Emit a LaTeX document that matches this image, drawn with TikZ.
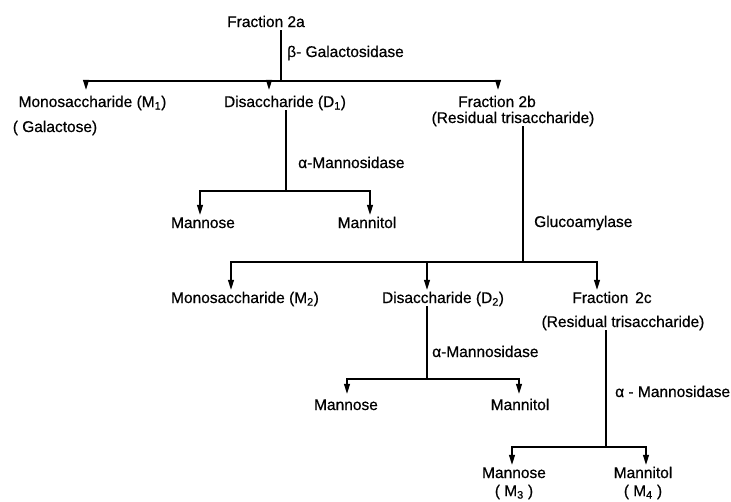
\documentclass[tikz,border=0pt]{standalone}
\usepackage{fontspec}
\setmainfont[FakeBold=0.6]{Liberation Sans}
\usetikzlibrary{arrows.meta}
\begin{document}
\begin{tikzpicture}[x=1pt,y=-1pt,
  lbl/.style={anchor=base,inner sep=0pt,text height=11pt,text depth=3pt,font=\fontsize{15.5}{18}\selectfont},
  enz/.style={anchor=base west,inner sep=0pt,font=\fontsize{15.5}{18}\selectfont},
  ln/.style={line width=1.3pt},
  arr/.style={ln,-{Triangle[length=10pt,width=6pt]}}]
\path[use as bounding box] (0,0) rectangle (731,501);

% level 1
\node[lbl] (f2a) at (266,27) {Fraction 2a};
\coordinate (j1) at (281,81);
\node[enz] (e1) at (287,57) {β- Galactosidase};
\node[lbl] (m1) at (92.5,107) {Monosaccharide (M\textsubscript{1})};
\node[lbl] (gal) at (55,132) {( Galactose)};
\node[lbl] (d1) at (285,107) {Disaccharide (D\textsubscript{1})};
\node[lbl] (f2b) at (497,107) {Fraction 2b};
\node[lbl] (r2b) at (513,123) {(Residual trisaccharide)};

\draw[ln] (f2a.south -| j1) -- (j1);
\draw[arr,shorten >=6pt] (j1) -| ([xshift=-6.5pt]m1.north);
\draw[arr,shorten >=6pt] (j1) -| ([xshift=-16pt]d1.north);
\draw[arr,shorten >=6pt] (j1) -| ([xshift=1pt]f2b.north);

% D1 branch
\coordinate (j2) at (286,191);
\node[enz] (e2) at (298,168) {α-Mannosidase};
\node[lbl] (man1) at (203,228) {Mannose};
\node[lbl] (mnt1) at (367,228) {Mannitol};
\draw[ln] (d1.south -| j2) -- (j2);
\draw[arr,shorten >=2pt] (j2) -| ([xshift=-3pt]man1.north);
\draw[arr,shorten >=2pt] (j2) -| ([xshift=3pt]mnt1.north);

% Fraction 2b branch
\coordinate (j3) at (523,262);
\node[enz] (e3) at (534,227) {Glucoamylase};
\node[lbl] (m2) at (245,303) {Monosaccharide (M\textsubscript{2})};
\node[lbl] (d2) at (443,303) {Disaccharide (D\textsubscript{2})};
\node[lbl] (f2c) at (612,303) {Fraction\, 2c};
\node[lbl] (r2c) at (623,327) {(Residual trisaccharide)};
\draw[ln] (r2b.south -| j3) -- (j3);
\draw[arr,shorten >=2pt] (j3) -| ([xshift=-14pt]m2.north);
\draw[arr,shorten >=2pt] (j3) -| ([xshift=-16pt]d2.north);
\draw[arr,shorten >=2pt] (j3) -| ([xshift=-15pt]f2c.north);

% D2 branch
\coordinate (j4) at (427,379);
\node[enz] (e4) at (432,357) {α-Mannosidase};
\node[lbl] (man2) at (346,410) {Mannose};
\node[lbl] (mnt2) at (520,410) {Mannitol};
\draw[ln] (d2.south -| j4) -- (j4);
\draw[arr,shorten >=5pt] (j4) -| ([xshift=1pt]man2.north);
\draw[arr,shorten >=5pt] (j4) -| ([xshift=-1pt]mnt2.north);

% Fraction 2c branch
\coordinate (j5) at (606,447);
\node[enz] (e5) at (615,397) {α - Mannosidase};
\node[lbl] (man3) at (514,478) {Mannose};
\node[lbl] (m3) at (514,496) {( M\textsubscript{3} )};
\node[lbl] (mnt3) at (643,478) {Mannitol};
\node[lbl] (m4) at (643,496) {( M\textsubscript{4} )};
\draw[ln] (r2c.south -| j5) -- (j5);
\draw[arr,shorten >=2pt] (j5) -| ([xshift=-2pt]man3.north);
\draw[arr,shorten >=2pt] (j5) -| ([xshift=3pt]mnt3.north);
\end{tikzpicture}
\end{document}
